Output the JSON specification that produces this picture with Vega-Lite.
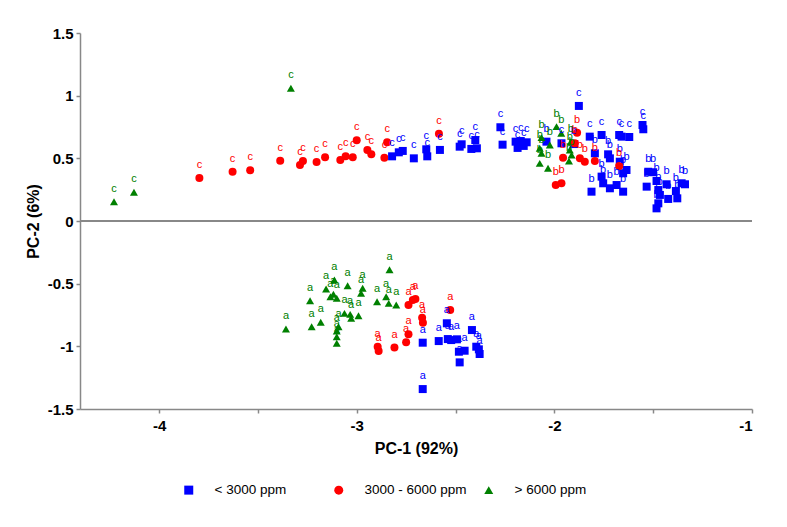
{
  "$schema": "https://vega.github.io/schema/vega-lite/v6.json",
  "width": 672,
  "height": 376,
  "autosize": {"type": "none"},
  "padding": {"left": 80, "top": 33, "right": 35, "bottom": 118},
  "background": "white",
  "config": {
    "view": {"stroke": null},
    "font": "Liberation Sans",
    "axis": {
      "grid": false,
      "domainColor": "#888888",
      "tickColor": "#888888",
      "domainWidth": 1.5,
      "tickWidth": 1.5,
      "tickSize": 4,
      "labelFont": "Liberation Sans",
      "labelFontWeight": "bold",
      "labelFontSize": 15,
      "labelColor": "black",
      "titleFont": "Liberation Sans",
      "titleFontWeight": "bold",
      "titleFontSize": 16,
      "titleColor": "black"
    }
  },
  "data": {
    "values": [
      {"g": "> 6000 ppm", "x": -4.228, "y": 0.154, "l": "c"},
      {"g": "> 6000 ppm", "x": -4.127, "y": 0.229, "l": "c"},
      {"g": "> 6000 ppm", "x": -3.333, "y": 1.059, "l": "c"},
      {"g": "3000 - 6000 ppm", "x": -3.796, "y": 0.343, "l": "c"},
      {"g": "3000 - 6000 ppm", "x": -3.628, "y": 0.393, "l": "c"},
      {"g": "3000 - 6000 ppm", "x": -3.539, "y": 0.405, "l": "c"},
      {"g": "3000 - 6000 ppm", "x": -3.387, "y": 0.481, "l": "c"},
      {"g": "3000 - 6000 ppm", "x": -3.287, "y": 0.447, "l": "c"},
      {"g": "3000 - 6000 ppm", "x": -3.272, "y": 0.479, "l": "c"},
      {"g": "3000 - 6000 ppm", "x": -3.203, "y": 0.471, "l": "c"},
      {"g": "3000 - 6000 ppm", "x": -3.16, "y": 0.508, "l": "c"},
      {"g": "3000 - 6000 ppm", "x": -3.083, "y": 0.487, "l": "c"},
      {"g": "3000 - 6000 ppm", "x": -3.056, "y": 0.516, "l": "c"},
      {"g": "3000 - 6000 ppm", "x": -3.02, "y": 0.508, "l": "c"},
      {"g": "3000 - 6000 ppm", "x": -3.0, "y": 0.644, "l": "c"},
      {"g": "3000 - 6000 ppm", "x": -2.946, "y": 0.567, "l": "c"},
      {"g": "3000 - 6000 ppm", "x": -2.926, "y": 0.532, "l": "c"},
      {"g": "3000 - 6000 ppm", "x": -2.86, "y": 0.505, "l": "c"},
      {"g": "3000 - 6000 ppm", "x": -2.846, "y": 0.628, "l": "c"},
      {"g": "3000 - 6000 ppm", "x": -2.584, "y": 0.697, "l": "c"},
      {"g": "< 3000 ppm", "x": -2.821, "y": 0.516, "l": "c"},
      {"g": "< 3000 ppm", "x": -2.787, "y": 0.548, "l": "c"},
      {"g": "< 3000 ppm", "x": -2.767, "y": 0.559, "l": "c"},
      {"g": "< 3000 ppm", "x": -2.711, "y": 0.5, "l": "c"},
      {"g": "< 3000 ppm", "x": -2.648, "y": 0.572, "l": "c"},
      {"g": "< 3000 ppm", "x": -2.643, "y": 0.516, "l": "c"},
      {"g": "< 3000 ppm", "x": -2.579, "y": 0.567, "l": "c"},
      {"g": "< 3000 ppm", "x": -2.479, "y": 0.593, "l": "c"},
      {"g": "< 3000 ppm", "x": -2.469, "y": 0.612, "l": "c"},
      {"g": "< 3000 ppm", "x": -2.42, "y": 0.575, "l": "c"},
      {"g": "< 3000 ppm", "x": -2.392, "y": 0.58, "l": "c"},
      {"g": "< 3000 ppm", "x": -2.4, "y": 0.646, "l": "c"},
      {"g": "< 3000 ppm", "x": -2.273, "y": 0.748, "l": "c"},
      {"g": "< 3000 ppm", "x": -2.262, "y": 0.609, "l": "c"},
      {"g": "< 3000 ppm", "x": -2.196, "y": 0.633, "l": "c"},
      {"g": "< 3000 ppm", "x": -2.17, "y": 0.638, "l": "c"},
      {"g": "< 3000 ppm", "x": -2.14, "y": 0.628, "l": "c"},
      {"g": "< 3000 ppm", "x": -2.186, "y": 0.583, "l": "c"},
      {"g": "< 3000 ppm", "x": -2.155, "y": 0.599, "l": "c"},
      {"g": "< 3000 ppm", "x": -1.964, "y": 0.62, "l": "c"},
      {"g": "< 3000 ppm", "x": -1.876, "y": 0.918, "l": "c"},
      {"g": "< 3000 ppm", "x": -1.821, "y": 0.673, "l": "c"},
      {"g": "< 3000 ppm", "x": -1.761, "y": 0.686, "l": "c"},
      {"g": "< 3000 ppm", "x": -1.672, "y": 0.686, "l": "c"},
      {"g": "< 3000 ppm", "x": -1.66, "y": 0.673, "l": "c"},
      {"g": "< 3000 ppm", "x": -1.621, "y": 0.67, "l": "c"},
      {"g": "< 3000 ppm", "x": -1.554, "y": 0.766, "l": "c"},
      {"g": "< 3000 ppm", "x": -1.55, "y": 0.732, "l": "c"},
      {"g": "< 3000 ppm", "x": -2.04, "y": 0.633, "l": "b"},
      {"g": "< 3000 ppm", "x": -1.902, "y": 0.614, "l": "b"},
      {"g": "< 3000 ppm", "x": -1.795, "y": 0.54, "l": "b"},
      {"g": "< 3000 ppm", "x": -1.728, "y": 0.532, "l": "b"},
      {"g": "< 3000 ppm", "x": -1.719, "y": 0.5, "l": "b"},
      {"g": "< 3000 ppm", "x": -1.669, "y": 0.473, "l": "b"},
      {"g": "< 3000 ppm", "x": -1.635, "y": 0.407, "l": "b"},
      {"g": "< 3000 ppm", "x": -1.652, "y": 0.381, "l": "b"},
      {"g": "< 3000 ppm", "x": -1.761, "y": 0.354, "l": "b"},
      {"g": "< 3000 ppm", "x": -1.753, "y": 0.301, "l": "b"},
      {"g": "< 3000 ppm", "x": -1.719, "y": 0.261, "l": "b"},
      {"g": "< 3000 ppm", "x": -1.685, "y": 0.287, "l": "b"},
      {"g": "< 3000 ppm", "x": -1.652, "y": 0.234, "l": "b"},
      {"g": "< 3000 ppm", "x": -1.812, "y": 0.234, "l": "b"},
      {"g": "< 3000 ppm", "x": -1.525, "y": 0.393, "l": "b"},
      {"g": "< 3000 ppm", "x": -1.5, "y": 0.389, "l": "b"},
      {"g": "< 3000 ppm", "x": -1.533, "y": 0.274, "l": "b"},
      {"g": "< 3000 ppm", "x": -1.483, "y": 0.319, "l": "b"},
      {"g": "< 3000 ppm", "x": -1.432, "y": 0.293, "l": "b"},
      {"g": "< 3000 ppm", "x": -1.474, "y": 0.247, "l": "b"},
      {"g": "< 3000 ppm", "x": -1.466, "y": 0.208, "l": "b"},
      {"g": "< 3000 ppm", "x": -1.424, "y": 0.176, "l": "b"},
      {"g": "< 3000 ppm", "x": -1.474, "y": 0.141, "l": "b"},
      {"g": "< 3000 ppm", "x": -1.483, "y": 0.101, "l": "b"},
      {"g": "< 3000 ppm", "x": -1.385, "y": 0.239, "l": "b"},
      {"g": "< 3000 ppm", "x": -1.378, "y": 0.181, "l": "b"},
      {"g": "< 3000 ppm", "x": -1.356, "y": 0.301, "l": "b"},
      {"g": "< 3000 ppm", "x": -1.339, "y": 0.293, "l": "b"},
      {"g": "> 6000 ppm", "x": -2.065, "y": 0.665, "l": "b"},
      {"g": "> 6000 ppm", "x": -2.023, "y": 0.607, "l": "b"},
      {"g": "> 6000 ppm", "x": -1.989, "y": 0.753, "l": "b"},
      {"g": "> 6000 ppm", "x": -1.965, "y": 0.7, "l": "b"},
      {"g": "> 6000 ppm", "x": -2.074, "y": 0.58, "l": "b"},
      {"g": "> 6000 ppm", "x": -2.065, "y": 0.54, "l": "b"},
      {"g": "> 6000 ppm", "x": -2.074, "y": 0.46, "l": "b"},
      {"g": "> 6000 ppm", "x": -2.032, "y": 0.421, "l": "b"},
      {"g": "> 6000 ppm", "x": -1.922, "y": 0.567, "l": "b"},
      {"g": "> 6000 ppm", "x": -1.913, "y": 0.527, "l": "b"},
      {"g": "> 6000 ppm", "x": -1.926, "y": 0.479, "l": "b"},
      {"g": "> 6000 ppm", "x": -1.917, "y": 0.633, "l": "b"},
      {"g": "3000 - 6000 ppm", "x": -1.885, "y": 0.705, "l": "b"},
      {"g": "3000 - 6000 ppm", "x": -1.897, "y": 0.62, "l": "b"},
      {"g": "3000 - 6000 ppm", "x": -1.956, "y": 0.505, "l": "b"},
      {"g": "3000 - 6000 ppm", "x": -1.871, "y": 0.5, "l": "b"},
      {"g": "3000 - 6000 ppm", "x": -1.846, "y": 0.473, "l": "b"},
      {"g": "3000 - 6000 ppm", "x": -1.795, "y": 0.479, "l": "b"},
      {"g": "3000 - 6000 ppm", "x": -1.993, "y": 0.287, "l": "b"},
      {"g": "3000 - 6000 ppm", "x": -1.964, "y": 0.301, "l": "b"},
      {"g": "3000 - 6000 ppm", "x": -1.672, "y": 0.439, "l": "b"},
      {"g": "> 6000 ppm", "x": -3.358, "y": -0.862, "l": "a"},
      {"g": "> 6000 ppm", "x": -3.236, "y": -0.636, "l": "a"},
      {"g": "> 6000 ppm", "x": -3.228, "y": -0.844, "l": "a"},
      {"g": "> 6000 ppm", "x": -3.182, "y": -0.808, "l": "a"},
      {"g": "> 6000 ppm", "x": -3.155, "y": -0.543, "l": "a"},
      {"g": "> 6000 ppm", "x": -3.113, "y": -0.471, "l": "a"},
      {"g": "> 6000 ppm", "x": -3.133, "y": -0.604, "l": "a"},
      {"g": "> 6000 ppm", "x": -3.118, "y": -0.585, "l": "a"},
      {"g": "> 6000 ppm", "x": -3.101, "y": -0.617, "l": "a"},
      {"g": "> 6000 ppm", "x": -3.046, "y": -0.516, "l": "a"},
      {"g": "> 6000 ppm", "x": -2.978, "y": -0.577, "l": "a"},
      {"g": "> 6000 ppm", "x": -2.97, "y": -0.537, "l": "a"},
      {"g": "> 6000 ppm", "x": -3.062, "y": -0.737, "l": "a"},
      {"g": "> 6000 ppm", "x": -3.033, "y": -0.745, "l": "a"},
      {"g": "> 6000 ppm", "x": -3.028, "y": -0.777, "l": "a"},
      {"g": "> 6000 ppm", "x": -2.991, "y": -0.756, "l": "a"},
      {"g": "> 6000 ppm", "x": -3.092, "y": -0.844, "l": "a"},
      {"g": "> 6000 ppm", "x": -3.101, "y": -0.878, "l": "a"},
      {"g": "> 6000 ppm", "x": -3.101, "y": -0.923, "l": "a"},
      {"g": "> 6000 ppm", "x": -3.101, "y": -0.976, "l": "a"},
      {"g": "> 6000 ppm", "x": -2.897, "y": -0.644, "l": "a"},
      {"g": "> 6000 ppm", "x": -2.851, "y": -0.604, "l": "a"},
      {"g": "> 6000 ppm", "x": -2.834, "y": -0.389, "l": "a"},
      {"g": "> 6000 ppm", "x": -2.838, "y": -0.657, "l": "a"},
      {"g": "> 6000 ppm", "x": -2.8, "y": -0.67, "l": "a"},
      {"g": "3000 - 6000 ppm", "x": -2.738, "y": -0.67, "l": "a"},
      {"g": "3000 - 6000 ppm", "x": -2.716, "y": -0.63, "l": "a"},
      {"g": "3000 - 6000 ppm", "x": -2.703, "y": -0.623, "l": "a"},
      {"g": "3000 - 6000 ppm", "x": -2.669, "y": -0.772, "l": "a"},
      {"g": "3000 - 6000 ppm", "x": -2.665, "y": -0.812, "l": "a"},
      {"g": "3000 - 6000 ppm", "x": -2.738, "y": -0.904, "l": "a"},
      {"g": "3000 - 6000 ppm", "x": -2.75, "y": -0.968, "l": "a"},
      {"g": "3000 - 6000 ppm", "x": -2.809, "y": -1.01, "l": "a"},
      {"g": "3000 - 6000 ppm", "x": -2.527, "y": -0.71, "l": "a"},
      {"g": "3000 - 6000 ppm", "x": -2.894, "y": -1.003, "l": "a"},
      {"g": "3000 - 6000 ppm", "x": -2.889, "y": -1.037, "l": "a"},
      {"g": "< 3000 ppm", "x": -2.666, "y": -0.971, "l": "a"},
      {"g": "< 3000 ppm", "x": -2.666, "y": -1.341, "l": "a"},
      {"g": "< 3000 ppm", "x": -2.585, "y": -0.958, "l": "a"},
      {"g": "< 3000 ppm", "x": -2.544, "y": -0.816, "l": "a"},
      {"g": "< 3000 ppm", "x": -2.539, "y": -0.942, "l": "a"},
      {"g": "< 3000 ppm", "x": -2.522, "y": -0.95, "l": "a"},
      {"g": "< 3000 ppm", "x": -2.493, "y": -0.944, "l": "a"},
      {"g": "< 3000 ppm", "x": -2.483, "y": -1.043, "l": "a"},
      {"g": "< 3000 ppm", "x": -2.454, "y": -1.035, "l": "a"},
      {"g": "< 3000 ppm", "x": -2.479, "y": -1.128, "l": "a"},
      {"g": "< 3000 ppm", "x": -2.417, "y": -0.87, "l": "a"},
      {"g": "< 3000 ppm", "x": -2.395, "y": -1.003, "l": "a"},
      {"g": "< 3000 ppm", "x": -2.382, "y": -1.024, "l": "a"},
      {"g": "< 3000 ppm", "x": -2.378, "y": -1.061, "l": "a"}
    ]
  },
  "layer": [
    {
      "mark": {"type": "rule", "color": "#888888", "strokeWidth": 1.5},
      "encoding": {"y": {"datum": 0, "type": "quantitative"}}
    },
    {
      "mark": {"type": "point", "filled": true, "opacity": 1, "size": 64},
      "encoding": {
        "x": {
          "field": "x",
          "type": "quantitative",
          "scale": {"domain": [-4.4, -1], "nice": false, "zero": false},
          "axis": {
            "values": [-4, -3.5, -3, -2.5, -2, -1.5, -1],
            "labelExpr": "datum.value % 1 == 0 ? toString(datum.value) : ''",
            "title": "PC-1 (92%)",
            "labelPadding": 5,
            "titlePadding": 7
          }
        },
        "y": {
          "field": "y",
          "type": "quantitative",
          "scale": {"domain": [-1.5, 1.5], "nice": false, "zero": false},
          "axis": {
            "values": [-1.5, -1, -0.5, 0, 0.5, 1, 1.5],
            "labelExpr": "toString(datum.value)",
            "title": "PC-2 (6%)",
            "labelPadding": 3,
            "titlePadding": 6
          }
        },
        "color": {
          "field": "g",
          "type": "nominal",
          "scale": {
            "domain": ["< 3000 ppm", "3000 - 6000 ppm", "> 6000 ppm"],
            "range": ["#0000ff", "#ff0000", "#008000"]
          },
          "legend": {
            "orient": "none",
            "legendX": 102,
            "legendY": 450,
            "direction": "horizontal",
            "columns": 3,
            "title": null,
            "symbolSize": 81,
            "labelFont": "Liberation Sans",
            "labelFontSize": 13.5,
            "labelColor": "black",
            "labelOffset": 19,
            "columnPadding": 15,
            "gridAlign": "all",
            "padding": 0
          }
        },
        "shape": {
          "field": "g",
          "type": "nominal",
          "scale": {
            "domain": ["< 3000 ppm", "3000 - 6000 ppm", "> 6000 ppm"],
            "range": ["square", "circle", "triangle-up"]
          },
          "legend": {
            "orient": "none",
            "legendX": 102,
            "legendY": 450,
            "direction": "horizontal",
            "columns": 3,
            "title": null,
            "symbolSize": 81,
            "labelFont": "Liberation Sans",
            "labelFontSize": 13.5,
            "labelColor": "black",
            "labelOffset": 19,
            "columnPadding": 15,
            "gridAlign": "all",
            "padding": 0
          }
        }
      }
    },
    {
      "mark": {"type": "text", "dy": -13, "fontSize": 11, "font": "Liberation Sans"},
      "encoding": {
        "x": {"field": "x", "type": "quantitative"},
        "y": {"field": "y", "type": "quantitative"},
        "text": {"field": "l"},
        "color": {"field": "g", "type": "nominal"}
      }
    }
  ]
}
